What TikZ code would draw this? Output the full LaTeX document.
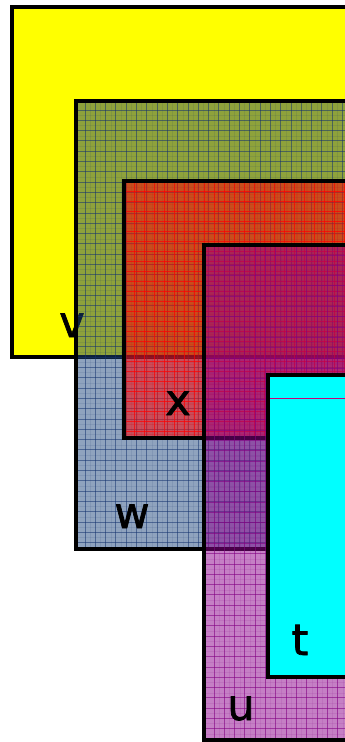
\documentclass[tikz,border=0pt]{standalone}
\usepackage{fontspec}
\newfontfamily\lblfont[FakeBold=1.6]{DejaVu Sans}
\definecolor{vyel}{RGB}{255,255,0}
\definecolor{wblue}{RGB}{26,67,122}
\definecolor{wline}{RGB}{20,50,110}
\definecolor{xred}{RGB}{255,0,0}
\definecolor{upur}{RGB}{140,0,140}
\definecolor{uline}{RGB}{130,0,130}
\definecolor{tcyan}{RGB}{0,255,255}
\definecolor{tmag}{RGB}{200,0,120}
\begin{document}
\begin{tikzpicture}[x=1pt,y=-1pt,
  regionbox/.style={draw=black, line width=3.8pt},
  setlabel/.style={font=\lblfont\fontsize{43}{43}\selectfont, anchor=base, inner sep=0pt, text=black},
  wgrid/.style={draw=wline, line width=1pt, opacity=0.55},
  wfine/.style={draw=wline, line width=0.5pt, opacity=0.1},
  xgrid/.style={draw=xred, line width=1pt, opacity=0.7},
  xfine/.style={draw=xred, line width=0.5pt, opacity=0.15},
  ugrid/.style={draw=uline, line width=1pt, opacity=0.6},
  ufine/.style={draw=uline, line width=0.5pt, opacity=0.1}]
\useasboundingbox (0,0) rectangle (345,742);
\clip (0,0) rectangle (345,742);
% v
\fill[vyel] (12,7) rectangle (380,357);
\draw[regionbox] (12,7) rectangle (380,357);
\node[setlabel] (lv) at (72,337) {v};
% w
\begin{scope}
  \clip (76,101) rectangle (380,549);
  \fill[wblue, opacity=0.49] (76,101) rectangle (380,549);
  \foreach \i in {0,...,29} {
    \draw[wgrid] ({85+10.3*\i},101) -- ({85+10.3*\i},549);
    \draw[wfine] ({90.15+10.3*\i},101) -- ({90.15+10.3*\i},549);
  }
  \foreach \j in {0,...,44} {
    \draw[wgrid] (76,{110+10.3*\j}) -- (380,{110+10.3*\j});
    \draw[wfine] (76,{115.15+10.3*\j}) -- (380,{115.15+10.3*\j});
  }
\end{scope}
\draw[regionbox] (76,101) rectangle (380,549);
\node[setlabel] (lw) at (132,528) {w};
% x
\begin{scope}
  \clip (124,181) rectangle (380,438);
  \fill[xred, opacity=0.52] (124,181) rectangle (380,438);
  \foreach \i in {0,...,25} {
    \draw[xgrid] ({134+10*\i},181) -- ({134+10*\i},438);
    \draw[xfine] ({137+10*\i},181) -- ({137+10*\i},438);
  }
  \foreach \j in {0,...,26} {
    \draw[xgrid] (124,{191+10*\j}) -- (380,{191+10*\j});
    \draw[xfine] (124,{194+10*\j}) -- (380,{194+10*\j});
  }
\end{scope}
\draw[regionbox] (124,181) rectangle (380,438);
\node[setlabel] (lx) at (178,415) {x};
% u
\begin{scope}
  \clip (204,245) rectangle (380,740);
  \fill[upur, opacity=0.5] (204,245) rectangle (380,740);
  \foreach \i in {0,...,17} {
    \draw[ugrid] ({214+10.3*\i},245) -- ({214+10.3*\i},740);
    \draw[ufine] ({219.15+10.3*\i},245) -- ({219.15+10.3*\i},740);
  }
  \foreach \j in {0,...,48} {
    \draw[ugrid] (204,{255+10.3*\j}) -- (380,{255+10.3*\j});
    \draw[ufine] (204,{260.15+10.3*\j}) -- (380,{260.15+10.3*\j});
  }
\end{scope}
\draw[regionbox] (204,245) rectangle (380,740);
\node[setlabel] (lu) at (241,720) {u};
% t
\fill[tcyan] (268,375) rectangle (380,677);
\draw[tmag, line width=1pt] (270,398) -- (380,398);
\draw[regionbox] (268,375) rectangle (380,677);
\node[setlabel] (lt) at (300,655) {t};
\end{tikzpicture}
\end{document}
